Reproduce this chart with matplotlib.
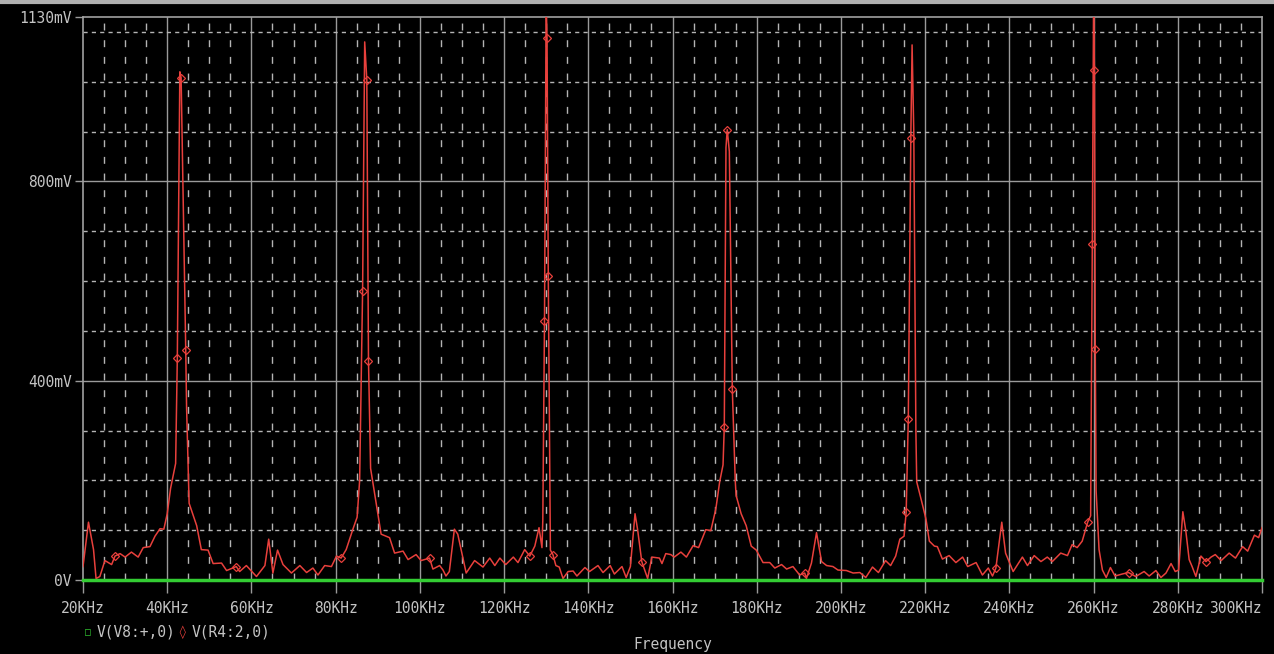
import numpy as np
import matplotlib.pyplot as plt

# frequency (KHz) and V(R4:2,0) in mV
freq = [20.0, 21.3, 22.5, 23.1, 24.0, 25.2, 26.8, 27.6, 28.8, 30.0, 31.5, 33.1, 34.3, 35.9,
        37.1, 38.3, 39.2, 40.0, 40.8, 42.0, 42.4, 43.0, 43.3, 44.4, 44.6, 45.2, 47.0, 48.1,
        49.7, 50.9, 52.9, 54.1, 56.4, 57.2, 58.8, 61.2, 63.2, 64.1, 65.1, 66.2, 67.5, 69.5,
        71.5, 73.1, 74.6, 75.8, 77.4, 79.0, 80.2, 81.3, 82.5, 84.1, 85.1, 85.7, 86.4, 86.9,
        87.4, 87.8, 88.3, 89.7, 90.8, 92.8, 94.0, 96.0, 97.2, 99.1, 100.3, 102.3, 103.1, 104.7,
        105.5, 106.2, 107.0, 108.2, 109.0, 111.0, 113.0, 115.0, 116.6, 117.8, 119.0, 120.4,
        122.2, 123.3, 124.9, 126.1, 127.3, 128.3, 129.0, 129.2, 129.6, 130.0, 130.2, 130.5,
        131.0, 131.6, 132.3, 133.1, 134.0, 135.2, 136.4, 137.3, 139.2, 140.3, 142.3, 143.5,
        145.2, 146.2, 148.0, 149.0, 150.0, 151.1, 151.7, 152.7, 154.1, 155.1, 156.9, 157.5,
        158.4, 159.6, 160.4, 162.0, 163.3, 164.9, 166.2, 167.9, 169.1, 170.3, 171.2, 172.0,
        172.3, 172.7, 173.0, 173.5, 174.2, 174.9, 175.1, 176.3, 177.5, 178.7, 179.9, 181.5,
        183.1, 184.3, 185.9, 187.1, 188.6, 190.2, 191.4, 191.8, 193.0, 194.2, 195.4, 196.6,
        198.1, 199.3, 201.3, 202.9, 204.5, 205.9, 207.5, 208.9, 210.6, 211.8, 213.0, 214.0,
        215.0, 215.5, 216.0, 216.6, 216.9, 217.3, 217.8, 218.0, 219.4, 220.2, 221.0, 222.2,
        222.9, 224.1, 225.7, 227.3, 228.9, 230.1, 232.1, 233.6, 235.0, 236.0, 236.8, 238.2,
        239.1, 240.9, 243.1, 244.3, 245.9, 247.5, 249.0, 250.2, 252.2, 253.8, 254.9, 256.1,
        257.3, 258.6, 259.3, 259.7, 260.0, 260.2, 260.4, 260.6, 261.3, 262.1, 263.0, 264.0,
        265.1, 266.8, 268.3, 270.0, 272.0, 273.2, 274.8, 276.0, 277.2, 278.4, 279.4, 280.2,
        281.2, 281.9, 282.7, 283.4, 284.3, 285.5, 286.7, 287.9, 288.9, 290.3, 292.2, 293.7,
        295.4, 296.6, 298.2, 299.2, 300.0]
vr4 = [27, 116, 61, 3, 7, 39, 31, 48, 53, 46, 56, 46, 65, 67,
       88, 103, 102, 133, 184, 234, 446, 1020, 1008, 462, 346, 154, 109, 61,
       60, 33, 34, 19, 27, 17, 29, 7, 29, 82, 14, 60, 31, 14,
       29, 15, 24, 10, 29, 27, 48, 44, 61, 102, 126, 200, 580, 1080,
       1004, 440, 224, 150, 92, 85, 54, 58, 41, 51, 39, 44, 22, 29,
       20, 8, 17, 102, 92, 14, 39, 26, 44, 29, 44, 31,
       46, 35, 61, 48, 68, 105, 65, 120, 520, 1160, 1088, 610,
       60, 51, 29, 26, 3, 17, 18, 8, 25, 17, 29, 15,
       29, 12, 27, 5, 27, 133, 102, 37, 3, 46, 44, 33,
       53, 51, 46, 56, 46, 69, 65, 101, 99, 143, 197, 231,
       308, 868, 904, 860, 384, 200, 170, 133, 109, 68, 60, 35,
       35, 24, 31, 22, 27, 10, 14, 3, 34, 95, 37, 29,
       27, 20, 19, 14, 15, 5, 26, 15, 39, 29, 48, 82,
       88, 137, 324, 888, 1074, 900, 300, 197, 150, 122, 78, 68,
       67, 42, 49, 35, 46, 27, 35, 10, 24, 8, 24, 116,
       54, 17, 46, 29, 49, 37, 46, 37, 54, 49, 71, 65,
       78, 116, 129, 674, 1160, 1024, 464, 180, 61, 20, 5, 25,
       8, 12, 15, 7, 17, 8, 19, 5, 14, 33, 17, 20,
       137, 99, 41, 27, 7, 48, 37, 46, 51, 39, 54, 44,
       67, 58, 90, 85, 105]
# frequencies where the trace carries a diamond marker
marker_f = [27.6, 42.4, 43.3, 44.4, 56.4, 81.3, 86.4, 87.4, 87.8, 102.3, 126.1, 129.6,
            130.2, 130.5, 131.6, 152.7, 172.3, 173.0, 174.2, 191.4, 215.5, 216.0, 216.6,
            236.8, 258.6, 259.7, 260.2, 260.4, 268.3, 286.7]
vv8 = [0, 0]
vv8_f = [20, 300]

x_ticks = [20, 40, 60, 80, 100, 120, 140, 160, 180, 200, 220, 240, 260, 280, 300]
x_labels = ["20KHz", "40KHz", "60KHz", "80KHz", "100KHz", "120KHz", "140KHz", "160KHz",
            "180KHz", "200KHz", "220KHz", "240KHz", "260KHz", "280KHz", "300KHz"]
y_ticks = [0, 400, 800, 1130]
y_labels = ["0V", "400mV", "800mV", "1130mV"]

txt = "#c4c4c4"
grid_c = "#b4b4b4"
red = "#e8403c"
green = "#33cc33"
mono = ["DejaVu Sans Mono"]

fig = plt.figure(figsize=(12.74, 6.54), dpi=100, facecolor="black")
ax = fig.add_axes([83 / 1274, 74 / 654, 1179 / 1274, 563 / 654], facecolor="black")

# grid: solid at majors, dashed at minors
for xv in np.arange(25, 300, 5):
    if xv % 20 == 0:
        ax.axvline(xv, color="#9a9a9a", lw=1.0, zorder=1)
    else:
        ax.axvline(xv, color=grid_c, lw=1.0, ls=(0, (5, 7)), zorder=1)
for yv in np.arange(100, 1130, 100):
    if yv in (400, 800):
        ax.axhline(yv, color="#9a9a9a", lw=1.0, zorder=1)
    else:
        ax.axhline(yv, color=grid_c, lw=1.0, ls=(0, (3, 3)), zorder=1)

idx = [i for i, f in enumerate(freq) if f in marker_f]
ax.plot(freq, vr4, color=red, lw=1.1, marker="D", markevery=idx, ms=4.5,
        mfc="none", mec=red, mew=0.9, zorder=3)
ax.plot(vv8_f, vv8, color=green, lw=2.5, zorder=4, clip_on=False)

ax.set_xlim(20, 300)
ax.set_ylim(0, 1130)
ax.set_xticks(x_ticks)
ax.set_xticklabels(x_labels, family=mono, fontsize=10.5, color=txt)
ax.get_xticklabels()[-1].set_ha("right")
ax.get_xticklabels()[-1].set_x(300.5)
ax.set_yticks(y_ticks)
ax.set_yticklabels(y_labels, family=mono, fontsize=10.5, color=txt)
ax.tick_params(axis="x", colors="#9a9a9a", length=9, width=1, pad=6, labelcolor=txt)
ax.tick_params(axis="y", colors="#9a9a9a", length=6, width=1, pad=2, labelcolor=txt)
for s in ax.spines.values():
    s.set_color("#a0a0a0")
    s.set_linewidth(1.2)

# legend below the axis
fig.text(88 / 1274, 1 - 632 / 654, "\u25a1", color=green, fontsize=7, family=mono,
         ha="center", va="center")
fig.text(97 / 1274, 1 - 632 / 654, "V(V8:+,0)", color=txt, fontsize=10.5, family=mono,
         ha="left", va="center")
fig.text(182 / 1274, 1 - 632 / 654, "\u25ca", color=red, fontsize=9, family=mono,
         ha="center", va="center")
fig.text(192 / 1274, 1 - 632 / 654, "V(R4:2,0)", color=txt, fontsize=10.5, family=mono,
         ha="left", va="center")
fig.text(0.528, 2 / 654, "Frequency", color=txt, fontsize=10.5, family=mono,
         ha="center", va="bottom")

fig.add_artist(plt.Line2D([0, 1], [0.997, 0.997], color="#b0b0b0", lw=3,
                          transform=fig.transFigure))

fig.savefig("out.png", dpi=100, facecolor="black")
